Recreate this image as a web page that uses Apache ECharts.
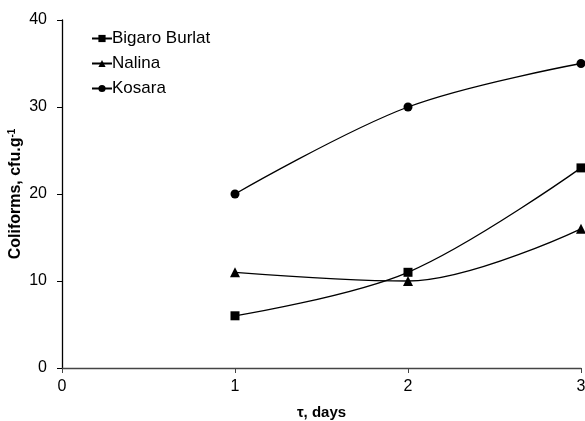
<!DOCTYPE html>
<html>
<head>
<meta charset="utf-8">
<script src="https://cdn.jsdelivr.net/npm/echarts@6/dist/echarts.min.js"></script>
<style>
    html, body { margin: 0; padding: 0; background: #fff; }
    #chart { width: 585px; height: 421px; }
</style>
</head>
<body>
<div id="chart"></div>
<script>
const days = [1, 2, 3];
const bigaroBurlat = [6, 11, 23];
const nalina = [11, 10, 16];
const kosara = [20, 30, 35];

const FONT = 'Liberation Sans, Arial, sans-serif';

/** pair x values with y values */
const toPoints = (ys) => days.map((d, i) => [d, ys[i]]);

const makeSeries = (name, ys, symbol, size) => {
    return {
        name: name,
        type: 'line',
        data: toPoints(ys),
        smooth: 0.35,
        symbol: symbol,
        symbolSize: size,
        itemStyle: { color: '#000' },
        lineStyle: { color: '#000', width: 1.3 },
    };
};

const chart = echarts.init(document.getElementById('chart'));
chart.setOption({
    animation: false,
    backgroundColor: '#fff',
    textStyle: { fontFamily: FONT },
    grid: { left: 62, right: 4, top: 20, bottom: 53, containLabel: false, outerBoundsMode: 'none' },
    legend: {
        orient: 'vertical',
        left: 86,
        top: 25,
        itemWidth: 20,
        itemHeight: 9,
        itemGap: 8,
        textStyle: { fontFamily: FONT, fontSize: 17, color: '#000', padding: [0, 0, 0, -5] },
        data: ['Bigaro Burlat', 'Nalina', 'Kosara'],
    },
    xAxis: {
        type: 'value',
        min: 0,
        max: 3,
        interval: 1,
        splitLine: { show: false },
        axisLine: { lineStyle: { color: '#444', width: 1.3 } },
        axisTick: { show: true, length: 5, lineStyle: { color: '#444' } },
        axisLabel: { color: '#000', fontSize: 16, fontFamily: FONT, margin: 11 },
        name: 'τ, days',
        nameLocation: 'middle',
        nameGap: 37,
        nameMoveOverlap: false,
        nameTextStyle: { fontFamily: FONT, fontSize: 15, fontWeight: 'bold', color: '#000' },
    },
    yAxis: {
        type: 'value',
        min: 0,
        max: 40,
        interval: 10,
        splitLine: { show: false },
        axisLine: { show: true, lineStyle: { color: '#000', width: 1.3 } },
        axisTick: { show: true, length: 5, lineStyle: { color: '#000' } },
        axisLabel: { color: '#000', fontSize: 16, fontFamily: FONT, margin: 15 },
        name: '{t|Coliforms, cfu.g}{s|-1}',
        nameLocation: 'middle',
        nameGap: 38,
        nameMoveOverlap: false,
        nameTextStyle: {
            rich: {
                t: { fontFamily: FONT, fontSize: 16, fontWeight: 'bold', color: '#000' },
                s: { fontFamily: FONT, fontSize: 10, fontWeight: 'bold', color: '#000', verticalAlign: 'top', padding: [0, 0, 7, 0] },
            },
        },
    },
    series: [
        makeSeries('Bigaro Burlat', bigaroBurlat, 'rect', 9),
        makeSeries('Nalina', nalina, 'triangle', 10),
        makeSeries('Kosara', kosara, 'circle', 9),
    ],
});
</script>
</body>
</html>
